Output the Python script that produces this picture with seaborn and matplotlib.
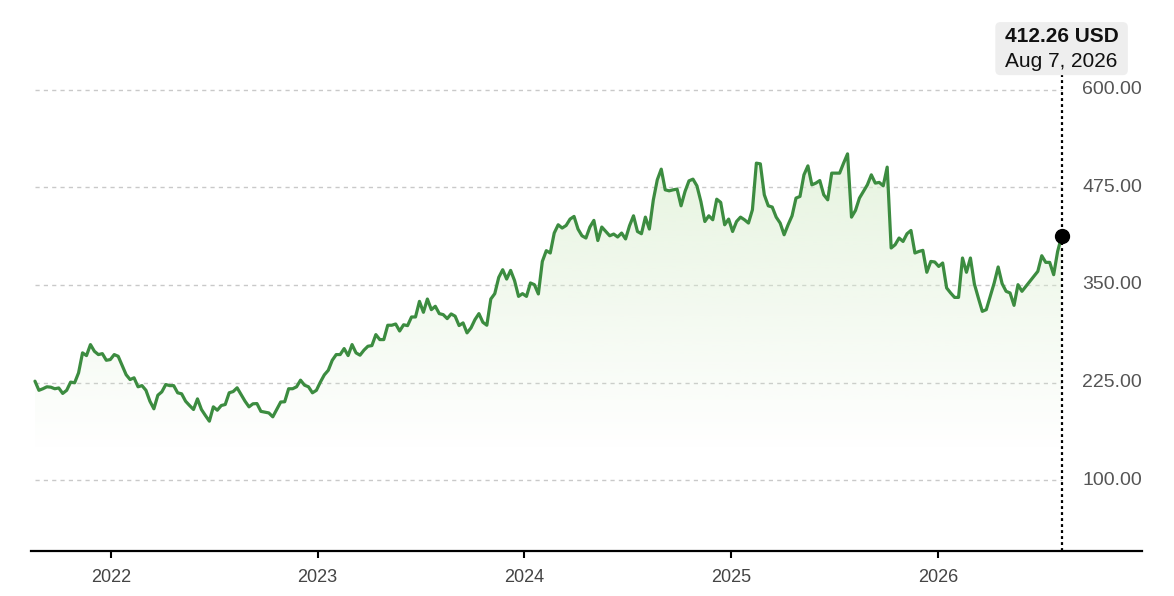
# weekly close price chart, green line + soft gradient area
import numpy as np
import pandas as pd
import matplotlib
matplotlib.use("Agg")
import matplotlib.pyplot as plt
import matplotlib.dates as mdates
import matplotlib.colors as mcolors
import matplotlib.transforms as mtransforms
from matplotlib.patches import FancyBboxPatch
import seaborn as sns

# data (weekly closes)
price = [
    226.7, 215, 217, 219.5, 219, 217, 218, 211, 215, 225.5, 224.6, 237.4, 263, 259.5, 273.6, 265,
    260.8, 262, 253.5, 254.4, 260.8, 258.6, 246.7, 235, 228.8, 231, 219.5, 221, 215, 201, 191.3,
    208.7, 213, 222.4, 221, 221, 211.8, 210.5, 201, 195.5, 190.4, 204, 190.4, 182.7, 175.4, 193.8,
    189.5, 195.5,
    196.8, 211.8, 213.4, 218.2, 209.6, 201, 193.8, 197.7, 198, 188, 187, 186, 181, 190.4, 200,
    200.3, 217, 217, 219.5, 228, 221.6, 219.5, 211.8, 215, 225.5, 234.8, 240.7, 253.5, 260.8,
    260.8, 268.5, 259.5, 273.6, 263, 260, 266.5, 271.5, 272.3, 286.4, 280, 280, 298.4, 298.4, 300,
    291, 299, 297.9, 309, 309, 329, 315, 332, 318.4, 322.7, 313.3, 312, 306.9, 312.9, 310, 298,
    301.4, 288.6, 295, 305.6, 313.3, 302.2, 298.4, 332, 338.9, 359.7, 369.6, 357.6, 368.7, 355.5,
    335.4, 338.9, 335.4, 352.6, 350.4, 338.5, 380.2, 394, 391, 416.6, 427.2, 423, 426.3, 434.5,
    437.9, 421.7, 413.1, 410.2, 424.3, 432.8, 407, 424.3, 418.6, 413.1, 415.3, 411.5, 416.6, 409,
    426, 438.7, 418.6, 415.7, 437, 421.7, 459,
    484.8, 498.5, 472, 470.7, 472, 472.9, 451.5, 469.9, 483.5, 485.7, 477.1, 457, 431.4, 438.7,
    433.6, 460, 455.9, 427.2, 434.5, 418.6, 431.4, 437, 433.6, 429.4, 446.4, 506.2, 505.3, 465.6,
    451.5, 449.9, 437, 429.4, 414.4, 427.2, 438.7, 461.4, 463.5, 491.2, 502.7, 478.4, 480.6, 483.9,
    465.6, 459.2, 493.4, 493.4, 493.4, 506.2, 518.1, 437, 445.6, 461.4, 469.9, 478.4, 491.2, 480.6,
    481.5, 477.1, 501.1, 397.4, 401.6, 410.2, 405.8, 415.7, 419.9, 391,
    393, 394.4, 366.3, 380.2, 379.5, 373.8, 378.2, 346.2, 339.8, 334.1, 334.1, 384.6, 366.3, 384.6,
    351.3, 333.4, 316.2, 318.4, 335.4, 352.6, 373.1, 351.7, 341.9, 339.8, 323.9, 350.4, 341.9,
    348.3, 354.8, 361.2, 367.5, 387.5, 379, 379, 363.2, 393, 412.26,
]
last_date = "2026-08-07"
last_price_label = "412.26 USD"
last_date_label = "Aug 7, 2026"
y_ticks = [100, 225, 350, 475, 600]
year_ticks = [2022, 2023, 2024, 2025, 2026]

df = pd.DataFrame({
    "date": pd.date_range(end=last_date, periods=len(price), freq="W-FRI"),
    "price": price,
})

sns.set_style("white")
plt.rcParams["font.family"] = ["Liberation Sans", "DejaVu Sans"]

line_col = "#3c8c40"
ymin, ymax = 9, 689.7

fig = plt.figure(figsize=(11.74, 5.96), dpi=100)
ax = fig.add_axes([31 / 1174, 45 / 596, (1142 - 31) / 1174, 531 / 596])

x0 = mdates.date2num(df["date"].iloc[0])
x1 = mdates.date2num(df["date"].iloc[-1])

# gradient area under the line
grad = np.zeros((256, 1, 4))
grad[..., :3] = mcolors.to_rgb("#dcefd2")
grad[..., 3] = np.linspace(0.7, 0.0, 256)[:, None]
im = ax.imshow(grad, aspect="auto", extent=[x0, x1, 140, 520], origin="upper", zorder=1)
poly = ax.fill_between(df["date"], df["price"], ymin, color="none", lw=0)
im.set_clip_path(poly.get_paths()[0], transform=ax.transData)

# dashed gridlines only across the data span
ax.hlines(y_ticks, df["date"].iloc[0], df["date"].iloc[-1], colors="#c9c9c9",
          linestyles=(0, (3, 3)), lw=1, zorder=0)

sns.lineplot(data=df, x="date", y="price", ax=ax, color=line_col, lw=2.3, zorder=3)

# hover marker, dotted guide and tooltip
ax.vlines(df["date"].iloc[-1], ymin, 628, colors="black", linestyles=(0, (1.3, 1.4)),
          lw=1.6, zorder=4)
ax.plot(df["date"].iloc[-1], df["price"].iloc[-1], "o", color="black", ms=10, zorder=5)

box = FancyBboxPatch((x1 - 117, 619), 234, 68,
                     boxstyle="round,pad=0,rounding_size=9", mutation_aspect=0.72,
                     fc="#eeeeee", ec="none", zorder=5, clip_on=False)
ax.add_patch(box)
ax.text(x1, 668.5, last_price_label, ha="center", va="center", fontsize=15,
        fontweight="bold", color="#111111", zorder=6)
ax.text(x1, 636, last_date_label, ha="center", va="center", fontsize=15,
        color="#111111", zorder=6)

# y labels sit inside the plot on the right
trans = mtransforms.blended_transform_factory(ax.transAxes, ax.transData)
for v in y_ticks:
    ax.text(1.0, v, f"{v:.2f}", transform=trans, ha="right", va="center",
            fontsize=14, color="#555555")

ax.set_xlim(mdates.date2num(pd.Timestamp("2021-08-13")),
            mdates.date2num(pd.Timestamp("2026-12-27")))
ax.set_ylim(ymin, ymax)
ax.set_yticks([])
ax.set_xticks([pd.Timestamp(f"{y}-01-01") for y in year_ticks])
ax.set_xticklabels([str(y) for y in year_ticks])
ax.tick_params(axis="x", direction="out", length=5, width=1.5, color="black",
               labelsize=13, labelcolor="#444444", pad=8, bottom=True)
ax.set_xlabel("")
ax.set_ylabel("")
for s in ["top", "right", "left"]:
    ax.spines[s].set_visible(False)
ax.spines["bottom"].set_color("black")
ax.spines["bottom"].set_linewidth(1.6)

fig.savefig("out.png", dpi=100)
